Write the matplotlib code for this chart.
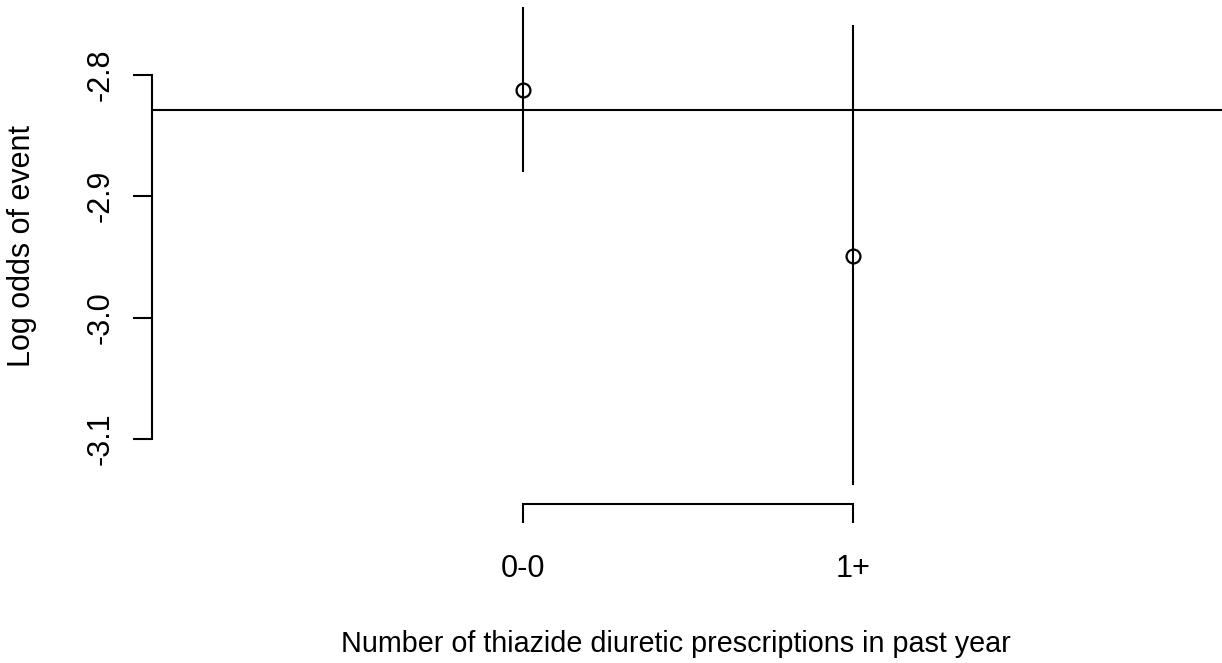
import matplotlib.pyplot as plt

# data
groups = ["0-0", "1+"]
log_odds = [-2.8124, -2.9492]
ci_low = [-2.880, -3.138]
ci_high = [-2.7439, -2.7588]
overall = -2.8289
yticks = [-2.8, -2.9, -3.0, -3.1]

plt.rcParams['font.family'] = ['Liberation Sans', 'DejaVu Sans']

fig = plt.figure(figsize=(12.22, 6.63), dpi=100)
W, H = 1222, 663
ax = fig.add_axes([152 / W, (H - 504) / H, (W - 152) / W, 504 / H])

xpos = [1, 2]
ax.axhline(overall, color="black", lw=1.5)
ax.vlines(xpos, ci_low, ci_high, color="black", lw=1.5)
ax.plot(xpos, log_odds, "o", mfc="none", mec="black", ms=10, mew=1.6, zorder=3)

ax.set_xlim(-0.1213, 3.1152)
ax.set_ylim(-3.1537, -2.7382)

#R style axes: only the range of ticks drawn
for s in ["top", "right"]:
    ax.spines[s].set_visible(False)
ax.spines["left"].set_bounds(-3.1, -2.8)
ax.spines["bottom"].set_bounds(1, 2)
for s in ["left", "bottom"]:
    ax.spines[s].set_linewidth(1.5)

ax.set_xticks(xpos)
ax.set_xticklabels(groups, fontsize=22)
ax.set_yticks(yticks)
ax.set_yticklabels([f"{v:.1f}" for v in yticks], fontsize=22, rotation=90, va="center")
ax.tick_params(axis="both", length=13.7, width=1.5)
ax.tick_params(axis="x", pad=22)
ax.tick_params(axis="y", pad=12.5)

fig.text(676 / W, 1 - 652 / H, "Number of thiazide diuretic prescriptions in past year",
         ha="center", va="baseline", fontsize=20.7)
fig.text(22 / W, 1 - 246 / H, "Log odds of event", ha="center", va="center",
         rotation=90, fontsize=22)

fig.savefig("out.png", dpi=100)
